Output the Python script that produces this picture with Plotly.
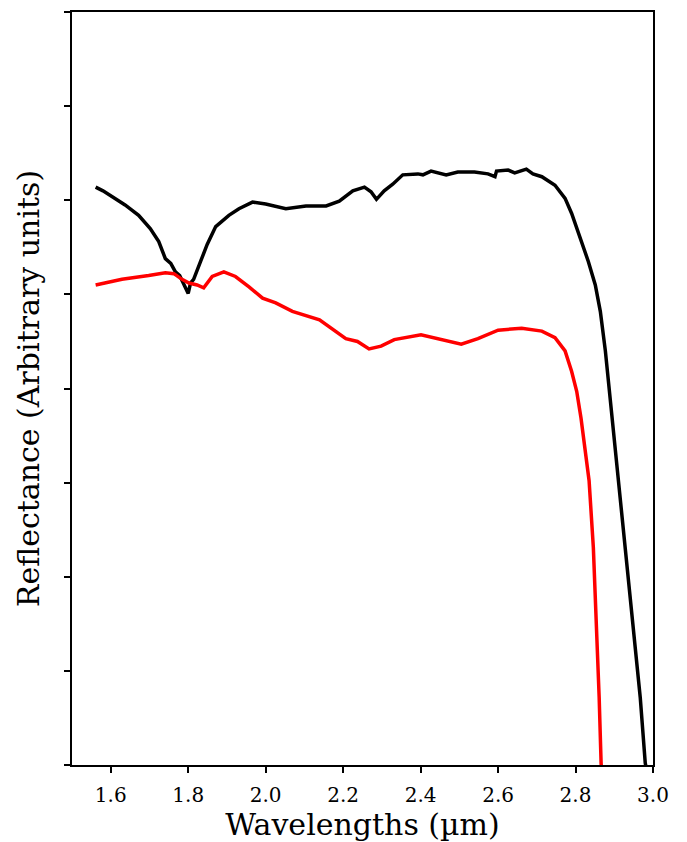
import plotly.graph_objects as go

# Black spectrum (wavelength in µm, reflectance in arbitrary units)
black_x = [1.561, 1.580, 1.603, 1.637, 1.672, 1.702, 1.724, 1.741, 1.755, 1.767,
           1.778, 1.789, 1.800, 1.806, 1.814, 1.832, 1.849, 1.871, 1.905, 1.931,
           1.966, 2.000, 2.052, 2.104, 2.156, 2.190, 2.225, 2.255, 2.272, 2.286,
           2.306, 2.328, 2.354, 2.393, 2.406, 2.427, 2.466, 2.496, 2.539, 2.574,
           2.592, 2.596, 2.626, 2.643, 2.673, 2.690, 2.713, 2.747, 2.773, 2.790,
           2.812, 2.833, 2.851, 2.864, 2.877, 2.890, 2.902, 2.915, 2.929, 2.950,
           2.967, 2.980, 2.986]
black_y = [6.14, 6.10, 6.04, 5.95, 5.84, 5.70, 5.56, 5.38, 5.33, 5.24,
           5.20, 5.10, 5.01, 5.12, 5.16, 5.35, 5.53, 5.72, 5.84, 5.91,
           5.98, 5.96, 5.91, 5.94, 5.94, 5.99, 6.10, 6.14, 6.09, 6.01,
           6.10, 6.17, 6.27, 6.28, 6.27, 6.31, 6.27, 6.30, 6.30, 6.28,
           6.25, 6.31, 6.32, 6.29, 6.33, 6.28, 6.25, 6.16, 6.02, 5.86,
           5.60, 5.35, 5.10, 4.82, 4.40, 3.87, 3.34, 2.81, 2.31, 1.43,
           0.72, 0.02, -0.10]

# Red spectrum
red_x = [1.561, 1.629, 1.698, 1.741, 1.763, 1.784, 1.802, 1.823, 1.840, 1.862,
         1.892, 1.922, 1.957, 1.992, 2.026, 2.069, 2.139, 2.168, 2.207, 2.237,
         2.267, 2.298, 2.332, 2.401, 2.453, 2.505, 2.548, 2.600, 2.661, 2.713,
         2.747, 2.773, 2.790, 2.803, 2.814, 2.825, 2.835, 2.846, 2.855, 2.861,
         2.866, 2.868]
red_y = [5.10, 5.16, 5.20, 5.23, 5.22, 5.16, 5.12, 5.10, 5.07, 5.19,
         5.24, 5.19, 5.08, 4.96, 4.91, 4.82, 4.73, 4.64, 4.53, 4.50,
         4.42, 4.45, 4.52, 4.57, 4.52, 4.47, 4.53, 4.62, 4.64, 4.61,
         4.54, 4.40, 4.18, 3.97, 3.69, 3.37, 3.02, 2.31, 1.43, 0.72,
         0.02, -0.10]

x_ticks = [1.6, 1.8, 2.0, 2.2, 2.4, 2.6, 2.8, 3.0]
x_tick_labels = ["1.6", "1.8", "2.0", "2.2", "2.4", "2.6", "2.8", "3.0"]
y_ticks = [0, 1, 2, 3, 4, 5, 6, 7, 8]

fig = go.Figure()
fig.add_trace(go.Scatter(x=black_x, y=black_y, mode="lines",
                         line=dict(color="black", width=3.5), showlegend=False))
fig.add_trace(go.Scatter(x=red_x, y=red_y, mode="lines",
                         line=dict(color="red", width=3.5), showlegend=False))

font_family = "DejaVu Serif"
fig.update_layout(
    width=687, height=842,
    margin=dict(l=64, r=42, t=2, b=85),
    plot_bgcolor="white", paper_bgcolor="white",
    font=dict(family=font_family, color="black"),
    xaxis=dict(
        range=[1.5, 3.0], tickvals=x_ticks, ticktext=x_tick_labels,
        showline=True, linecolor="black", linewidth=2, mirror=True,
        ticks="outside", ticklen=6, tickwidth=2, tickcolor="black",
        ticklabelstandoff=5,
        showgrid=False, zeroline=False,
        tickfont=dict(family=font_family, size=20),
        title=dict(text="Wavelengths (µm)", font=dict(family=font_family, size=30), standoff=8),
    ),
    yaxis=dict(
        range=[0, 8], tickvals=y_ticks, showticklabels=False,
        showline=True, linecolor="black", linewidth=2, mirror=True,
        ticks="outside", ticklen=6, tickwidth=2, tickcolor="black",
        showgrid=False, zeroline=False,
        title=dict(text="Reflectance (Arbitrary units)", font=dict(family=font_family, size=30), standoff=16),
    ),
)

fig.write_html("out.html")
